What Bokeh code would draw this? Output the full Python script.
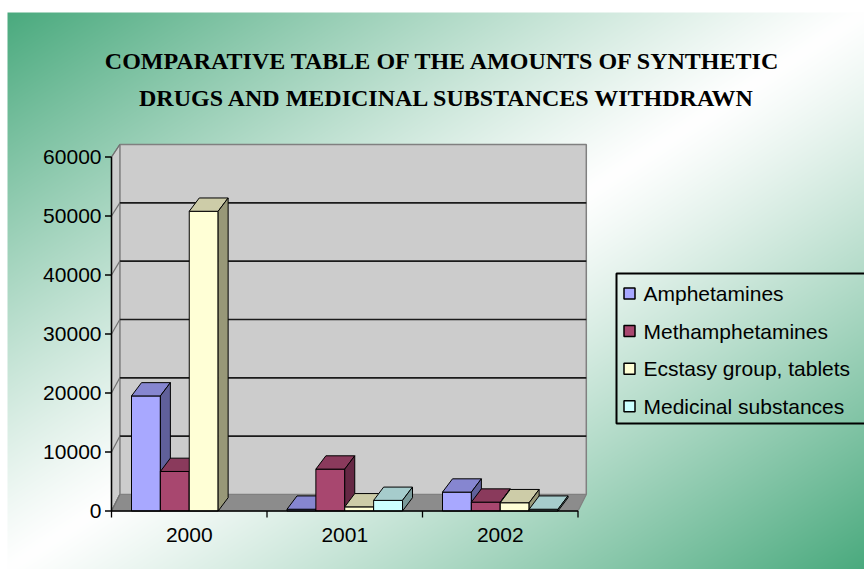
import numpy as np
from bokeh.plotting import figure
from bokeh.models import Range1d, ColumnDataSource
from bokeh.core.properties import value
from bokeh.embed import file_html
from bokeh.resources import INLINE

# ---------------- data ----------------
years = ["2000", "2001", "2002"]
series_names = ["Amphetamines", "Methamphetamines", "Ecstasy group, tablets", "Medicinal substances"]
amphetamines = [19500, 300, 3200]
methamphetamines = [6700, 7100, 1500]
ecstasy_tablets = [50800, 700, 1400]
medicinal_substances = [None, 1800, 300]
y_ticks = [0, 10000, 20000, 30000, 40000, 50000, 60000]
y_tick_labels = ["0", "10000", "20000", "30000", "40000", "50000", "60000"]
title_lines = ["COMPARATIVE TABLE OF THE AMOUNTS OF SYNTHETIC",
               "DRUGS AND MEDICINAL SUBSTANCES WITHDRAWN"]

series_values = [amphetamines, methamphetamines, ecstasy_tablets, medicinal_substances]
front_colors = ["#a8a8ff", "#a8476f", "#ffffd6", "#ccffff"]
top_colors = ["#8686d0", "#8a3a5c", "#cdcca8", "#a6cccc"]
side_colors = ["#60609a", "#652844", "#989878", "#7a9a9a"]

# ---------------- geometry (layout) ----------------
W, H = 864, 569
OFF = 0                    # canvas starts at page (0, 0)
AX_X = 111.0               # ref x of the front value axis
GROUP_PX = 155.5           # pixel width of one category
ZERO_Y = 510.5             # ref y of value 0 on the front plane
PX_PER_10K = 59.0
SX = 1.0 / GROUP_PX        # data x per pixel
SY = 10000.0 / PX_PER_10K  # data y per pixel
YMAX = y_ticks[-1]


def DX(X):
    return (X - AX_X) * SX


def DY(Y):
    return (ZERO_Y - Y) * SY


x0, x1 = DX(OFF), DX(OFF + W)
y0, y1 = DY(OFF + H), DY(OFF)

p = figure(width=W, height=H, x_range=Range1d(x0, x1), y_range=Range1d(y0, y1),
           x_axis_location=None, y_axis_location=None, toolbar_location=None,
           output_backend="svg", min_border=0)
p.outline_line_color = None
p.grid.visible = False
p.background_fill_color = "white"
p.border_fill_color = "white"

# ---------------- background gradient ----------------
cyv = np.arange(H) + OFF + 0.5
cxv = np.arange(W) + OFF + 0.5
u = (cxv - 7.0) / 857.0
v = (cyv - 12.0) / 557.0
t = np.clip(np.abs(u[None, :] + v[:, None] - 1.0), 0, 1) ** 1.15
green = np.array([74, 170, 126], dtype=float)
rgb = 255.0 + (green[None, None, :] - 255.0) * t[:, :, None]
rgb[cyv < 12, :, :] = 255.0
rgb[:, cxv < 7, :] = 255.0
img = np.empty((H, W), dtype=np.uint32)
view = img.view(dtype=np.uint8).reshape((H, W, 4))
view[:, :, 0:3] = np.clip(rgb, 0, 255).astype(np.uint8)
view[:, :, 3] = 255
p.image_rgba(image=[img[::-1]], x=x0, y=y0, dw=x1 - x0, dh=y1 - y0)

# ---------------- 3D walls ----------------
ncat = len(years)
WDX = 8.3 * SX


def yb(val):
    return 16.5 * SY + val * (350.0 / 354.0)


# back wall
p.patch([WDX, ncat + WDX, ncat + WDX, WDX], [yb(0), yb(0), yb(YMAX), yb(YMAX)],
        fill_color="#cccccc", line_color="#808080", line_width=1.5)
# side wall
p.patch([0, WDX, WDX, 0], [0, yb(0), yb(YMAX), YMAX],
        fill_color="#cdcdcd", line_color="#808080", line_width=1.2)
# floor
p.patch([0, ncat, ncat + WDX, WDX], [0, 0, yb(0), yb(0)],
        fill_color="#8c8c8c", line_color="#808080", line_width=1.2)

# gridlines on back wall and side wall
inner = [tv for tv in y_ticks if 0 < tv < YMAX]
p.segment(x0=[WDX] * len(inner), y0=[yb(tv) for tv in inner],
          x1=[ncat + WDX] * len(inner), y1=[yb(tv) for tv in inner],
          line_color="#1a1a1a", line_width=1.6)
p.segment(x0=[0] * len(y_ticks), y0=y_ticks, x1=[WDX] * len(y_ticks),
          y1=[yb(tv) for tv in y_ticks], line_color="#707070", line_width=1.2)

# ---------------- bars ----------------
gap = 20.0 * SX
bw = (1.0 - 2 * gap) / len(series_names)
BDX = 10.0 * SX
BDY = 13.3 * SY
xs, ys, fills, names, vals = [], [], [], [], []
for g in range(ncat):
    for s in range(len(series_names)):
        h = series_values[s][g]
        if h is None:
            continue
        left = g + gap + s * bw
        right = left + bw
        faces = [
            ([left, right, right, left], [0, 0, h, h], front_colors[s]),
            ([left, right, right + BDX, left + BDX], [h, h, h + BDY, h + BDY], top_colors[s]),
            ([right, right + BDX, right + BDX, right], [0, BDY, h + BDY, h], side_colors[s]),
        ]
        for fx, fy, fc in faces:
            xs.append(fx)
            ys.append(fy)
            fills.append(fc)
            names.append(series_names[s])
            vals.append(h)
src = ColumnDataSource(dict(xs=xs, ys=ys, fill=fills, name=names, val=vals))
p.patches("xs", "ys", source=src, fill_color="fill", line_color="black", line_width=1)

# ---------------- axes ----------------
TICK = 6.5
p.segment(x0=[0], y0=[0], x1=[0], y1=[YMAX], line_color="black", line_width=1.5)
p.segment(x0=[0], y0=[0], x1=[ncat], y1=[0], line_color="black", line_width=1.5)
p.segment(x0=[-TICK * SX] * len(y_ticks), y0=y_ticks, x1=[0] * len(y_ticks), y1=y_ticks,
          line_color="black", line_width=1.3)
cat_edges = list(range(ncat + 1))
p.segment(x0=cat_edges, y0=[0] * len(cat_edges), x1=cat_edges,
          y1=[-TICK * SY] * len(cat_edges), line_color="black", line_width=1.3)

p.text(x=[-10 * SX] * len(y_ticks), y=y_ticks, text=y_tick_labels,
       text_font=value("Liberation Sans"), text_font_size="21px",
       text_align="right", text_baseline="middle", text_color="black")
p.text(x=[i + 0.5 for i in range(ncat)], y=[DY(534)] * ncat, text=years,
       text_font=value("Liberation Sans"), text_font_size="21px",
       text_align="center", text_baseline="middle", text_color="black")

# ---------------- title ----------------
p.text(x=[DX(443), DX(447)], y=[DY(60), DY(97)], text=title_lines,
       text_font=value("Liberation Serif"), text_font_style="bold", text_font_size="24px",
       text_align="center", text_baseline="alphabetic", text_color="black")

# ---------------- legend ----------------
p.quad(left=[DX(616)], right=[DX(890)], top=[DY(273)], bottom=[DY(423)],
       fill_color=None, line_color="black", line_width=2)
row_y = [DY(293 + 37.6 * i) for i in range(len(series_names))]
p.scatter(x=[DX(629)] * len(series_names), y=row_y, marker="square", size=11,
          fill_color=front_colors, line_color="black", line_width=1.5)
p.text(x=[DX(643)] * len(series_names), y=row_y, text=series_names,
       text_font=value("Liberation Sans"), text_font_size="21px",
       text_align="left", text_baseline="middle", text_color="black")

open("out.html", "w").write(file_html(p, INLINE))
